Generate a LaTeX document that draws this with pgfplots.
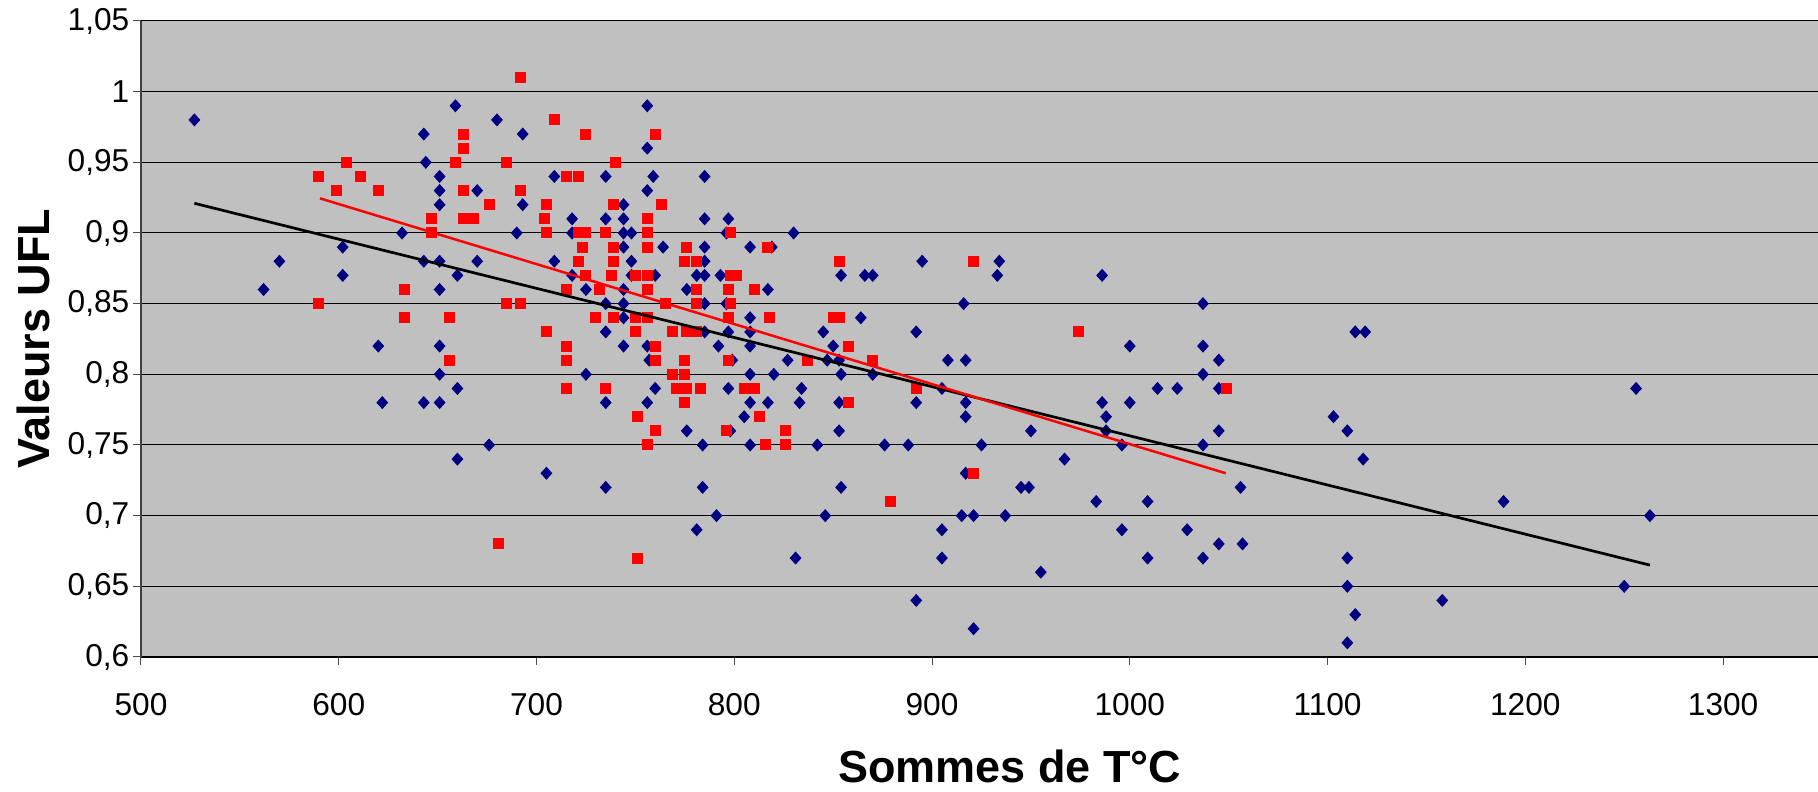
\documentclass[border=0pt]{standalone}
\usepackage{fontspec}
\setmainfont{Liberation Sans}
\usepackage{pgfplots}
\pgfplotsset{compat=1.18}
\definecolor{navyb}{HTML}{000080}
\definecolor{plotbg}{HTML}{C0C0C0}
\begin{document}
\begin{tikzpicture}
\useasboundingbox (-14.1mm,-13.5mm) rectangle (167.7mm,65.7mm);
\begin{axis}[
 at={(0,0)}, anchor=south west,
 scale only axis, width=167.7mm, height=63.6mm,
 xmin=500, xmax=1348, ymin=0.6, ymax=1.05,
 axis x line=bottom, axis y line=left, axis line style={-},
 x axis line style={black, line width=0.15mm},
 y axis line style={black!75, line width=0.15mm},
 axis background/.style={fill=plotbg},
 xtick={500,600,700,800,900,1000,1100,1200,1300},
 xticklabels={500,600,700,800,900,1000,1100,1200,1300},
 ytick={0.6,0.65,0.7,0.75,0.8,0.85,0.9,0.95,1,1.05},
 yticklabels={{0,6},{0,65},{0,7},{0,75},{0,8},{0,85},{0,9},{0,95},{1},{1,05}},
 tick align=outside, major tick length=0.8mm,
 tick style={black!70, line width=0.1mm},
 ymajorgrids, grid style={black, line width=0.1mm},
 ticklabel style={font=\fontsize{9}{10}\selectfont},
 xticklabel style={anchor=north, inner sep=0pt, yshift=-2.8mm},
 yticklabel style={anchor=east, inner sep=0pt, xshift=-0.3mm},
 xlabel={Sommes de T°C}, ylabel={Valeurs UFL},
 label style={font=\fontsize{12.8}{15}\selectfont\bfseries},
 xlabel style={at={(axis description cs:0.518,-0.1714)}, anchor=center},
 ylabel style={at={(axis description cs:-0.0644,0.5)}, anchor=center},
 clip mode=individual,
]
\addplot[only marks, mark=diamond*, mark size=0.58mm, navyb, mark options={line width=0.1mm, xscale=1.2}] table {
x y
527 0.98
632 0.90
602 0.89
570 0.88
602 0.87
562 0.86
620 0.82
622 0.78
659 0.99
756 0.99
680 0.98
643 0.97
693 0.97
756 0.96
644 0.95
651 0.94
709 0.94
735 0.94
759 0.94
785 0.94
651 0.93
670 0.93
756 0.93
651 0.92
693 0.92
744 0.92
718 0.91
735 0.91
744 0.91
785 0.91
690 0.90
718 0.90
744 0.90
748 0.90
744 0.89
764 0.89
785 0.89
643 0.88
651 0.88
670 0.88
709 0.88
748 0.88
785 0.88
660 0.87
718 0.87
748 0.87
760 0.87
781 0.87
785 0.87
651 0.86
725 0.86
744 0.86
776 0.86
735 0.85
744 0.85
785 0.85
744 0.84
735 0.83
785 0.83
651 0.82
744 0.82
756 0.82
757 0.81
651 0.80
725 0.80
660 0.79
760 0.79
643 0.78
651 0.78
735 0.78
756 0.78
776 0.76
676 0.75
784 0.75
660 0.74
705 0.73
735 0.72
784 0.72
781 0.69
797 0.91
796 0.90
830 0.90
808 0.89
819 0.89
895 0.88
793 0.87
854 0.87
866 0.87
870 0.87
817 0.86
796 0.85
916 0.85
808 0.84
864 0.84
797 0.83
808 0.83
845 0.83
892 0.83
792 0.82
808 0.82
850 0.82
799 0.81
827 0.81
847 0.81
853 0.81
908 0.81
917 0.81
808 0.80
820 0.80
854 0.80
870 0.80
797 0.79
834 0.79
905 0.79
808 0.78
817 0.78
833 0.78
853 0.78
892 0.78
917 0.78
805 0.77
917 0.77
798 0.76
853 0.76
808 0.75
842 0.75
876 0.75
888 0.75
925 0.75
917 0.73
854 0.72
791 0.70
846 0.70
915 0.70
921 0.70
905 0.69
831 0.67
905 0.67
892 0.64
921 0.62
934 0.88
933 0.87
986 0.87
1037 0.85
1000 0.82
1037 0.82
1045 0.81
1037 0.80
1014 0.79
1024 0.79
1045 0.79
986 0.78
1000 0.78
988 0.77
988 0.76
950 0.76
1045 0.76
996 0.75
1037 0.75
967 0.74
945 0.72
949 0.72
1056 0.72
983 0.71
1009 0.71
937 0.70
996 0.69
1029 0.69
1045 0.68
1057 0.68
1009 0.67
1037 0.67
955 0.66
1114 0.83
1119 0.83
1256 0.79
1103 0.77
1110 0.76
1118 0.74
1189 0.71
1263 0.70
1110 0.67
1110 0.65
1250 0.65
1158 0.64
1114 0.63
1110 0.61
};
\addplot[only marks, mark=square*, mark size=0.5mm, red, mark options={line width=0.1mm}] table {
x y
590 0.94
604 0.95
611 0.94
599 0.93
620 0.93
633 0.86
590 0.85
633 0.84
692 1.01
709 0.98
663 0.97
725 0.97
760 0.97
663 0.96
659 0.95
685 0.95
740 0.95
715 0.94
721 0.94
663 0.93
692 0.93
676 0.92
705 0.92
739 0.92
763 0.92
647 0.91
663 0.91
668 0.91
704 0.91
756 0.91
647 0.90
705 0.90
721 0.90
725 0.90
735 0.90
756 0.90
723 0.89
739 0.89
756 0.89
776 0.89
721 0.88
739 0.88
775 0.88
781 0.88
725 0.87
738 0.87
750 0.87
756 0.87
715 0.86
732 0.86
756 0.86
781 0.86
685 0.85
692 0.85
765 0.85
781 0.85
656 0.84
730 0.84
739 0.84
750 0.84
756 0.84
705 0.83
750 0.83
769 0.83
776 0.83
781 0.83
715 0.82
760 0.82
656 0.81
715 0.81
760 0.81
775 0.81
769 0.80
775 0.80
715 0.79
735 0.79
771 0.79
776 0.79
783 0.79
775 0.78
751 0.77
760 0.76
756 0.75
681 0.68
751 0.67
798 0.90
817 0.89
853 0.88
921 0.88
798 0.87
801 0.87
797 0.86
810 0.86
798 0.85
797 0.84
818 0.84
850 0.84
853 0.84
858 0.82
797 0.81
837 0.81
870 0.81
805 0.79
810 0.79
892 0.79
858 0.78
813 0.77
796 0.76
826 0.76
816 0.75
826 0.75
921 0.73
879 0.71
974 0.83
1049 0.79
};
\addplot[black, line width=0.27mm] coordinates {(527,0.921) (1263,0.665)};
\addplot[red, line width=0.25mm] coordinates {(590.5,0.9245) (1048.5,0.730)};
\end{axis}
\end{tikzpicture}
\end{document}
